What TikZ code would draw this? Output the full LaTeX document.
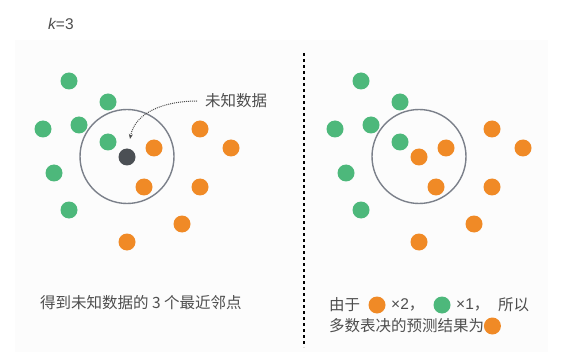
\documentclass[tikz,border=0pt]{standalone}
\usepackage{fontspec}
\setmainfont{Noto Sans CJK SC}
\newfontfamily\latinfont{Liberation Sans}
\usepackage{xcolor}
\usetikzlibrary{arrows.meta}

\definecolor{knngreen}{HTML}{4DB87B}
\definecolor{knnorange}{HTML}{F08A26}
\definecolor{knndark}{HTML}{4B4F54}
\definecolor{ringgray}{HTML}{7B808A}
\definecolor{panelgray}{HTML}{FCFCFC}
\definecolor{textgray}{HTML}{4E4E4E}

\tikzset{
  ring/.style={draw=ringgray,line width=1.4pt},
  caption/.style={anchor=west,inner sep=0pt,text=textgray},
}

\begin{document}
\begin{tikzpicture}[x=1pt,y=-1pt,font=\fontsize{15.5}{19}\selectfont]
  \useasboundingbox (0,0) rectangle (577,363);
  \fill[panelgray] (15,40) rectangle (548,352);
  \node[caption,font=\latinfont\fontsize{15.5}{18}\selectfont] (kvalue) at (48,24) {\itshape k\upshape =3};
  \draw[line width=1.5pt,dash pattern=on 3pt off 3pt] (304,53) -- (304,347);
  % the same points in both panels; only the queried point changes colour
  \foreach \dx/\centre in {0/knndark,292/knnorange} {
    \begin{scope}[xshift=\dx]
      \draw[ring] (127,156.5) circle (47);
      \foreach \px/\py in {69/81,108/102,43/129,79/125,108/142,54/173,69/210}
        \fill[knngreen] (\px,\py) circle (8.5);
      \foreach \px/\py in {200/129,231/148,154/148,144/187,200/187,182/224,127/242}
        \fill[knnorange] (\px,\py) circle (8.5);
      \fill[\centre] (127,157) circle (8.5);
    \end{scope}
  }
  \node[caption] (unknown) at (205,101) {未知数据};
  \coordinate (unknowntip) at (130,139);
  \draw[textgray,densely dotted,line width=1pt,-{Stealth[length=5pt,width=4pt]}]
    (unknown.west) ++(-8,0) .. controls (165,101) and (135,112) .. (unknowntip);
  \node[caption] (neighbours) at (40,303) {得到未知数据的 3 个最近邻点};
  % vote line
  \node[caption] (votea) at (329,305) {由于};
  \fill[knnorange] (377,305) circle (8.5);
  \node[caption] (voteb) at (391,305) {{\latinfont ×2}，};
  \fill[knngreen] (442,305) circle (8.5);
  \node[caption] (votec) at (456,305) {{\latinfont ×1}，};
  \node[caption] (voted) at (498,305) {所以};
  \node[caption] (result) at (329,326) {多数表决的预测结果为};
  \fill[knnorange] (result.east) ++(8,0) circle (8.5);
\end{tikzpicture}
\end{document}
